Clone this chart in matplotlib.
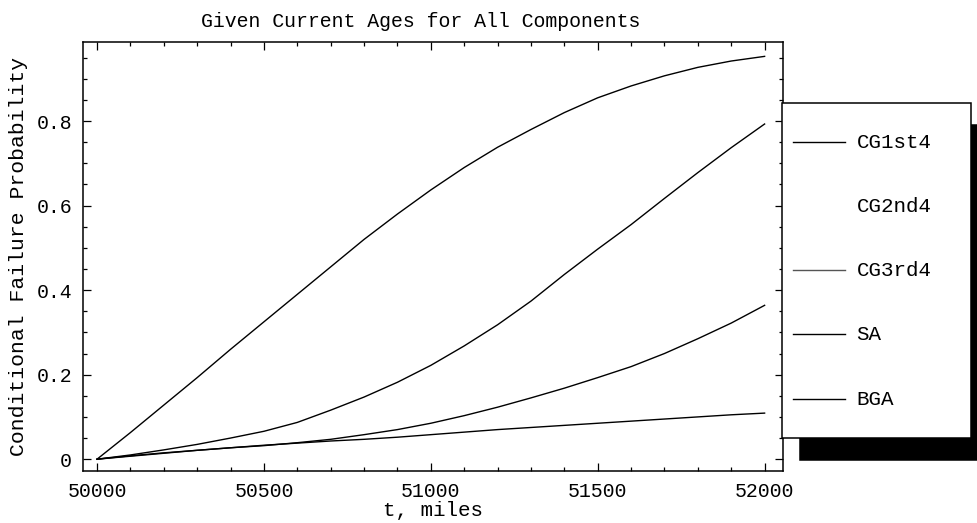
import matplotlib
matplotlib.use("Agg")
import matplotlib.pyplot as plt
from matplotlib.lines import Line2D
from matplotlib.legend_handler import HandlerLine2D
from matplotlib.ticker import MultipleLocator

# miles, sampled every 100
t_miles = [50000, 50100, 50200, 50300, 50400, 50500, 50600, 50700, 50800, 50900,
           51000, 51100, 51200, 51300, 51400, 51500, 51600, 51700, 51800, 51900, 52000]

cg1st4 = [0, 0.063, 0.128, 0.193, 0.26, 0.325, 0.39, 0.455, 0.52, 0.58,
          0.637, 0.69, 0.738, 0.78, 0.82, 0.855, 0.883, 0.907, 0.927, 0.942, 0.953]
cg3rd4 = [0, 0.01, 0.022, 0.035, 0.05, 0.066, 0.087, 0.116, 0.147, 0.182,
          0.222, 0.268, 0.318, 0.374, 0.437, 0.497, 0.555, 0.617, 0.678, 0.737, 0.793]
sa = [0, 0.007, 0.014, 0.021, 0.027, 0.032, 0.039, 0.047, 0.058, 0.07,
      0.085, 0.103, 0.123, 0.145, 0.168, 0.193, 0.219, 0.25, 0.285, 0.322, 0.364]
bga = [0, 0.008, 0.015, 0.021, 0.027, 0.033, 0.038, 0.043, 0.047, 0.052,
       0.058, 0.064, 0.07, 0.075, 0.08, 0.085, 0.09, 0.095, 0.1, 0.105, 0.109]

legend_names = ["CG1st4", "CG2nd4", "CG3rd4", "SA", "BGA"]
legend_colors = ["black", "white", "#555555", "black", "black"]

xticks = [50000, 50500, 51000, 51500, 52000]
yticks = [0, 0.2, 0.4, 0.6, 0.8]
ytick_labels = ["0", "0.2", "0.4", "0.6", "0.8"]


class LowLine(HandlerLine2D):
    # tall legend rows put the sample line above the text, push it back down
    def create_artists(self, legend, orig_handle, xdescent, ydescent,
                       width, height, fontsize, trans):
        return super().create_artists(legend, orig_handle, xdescent,
                                      ydescent + 1.05 * fontsize, width, height,
                                      fontsize, trans)


plt.rcParams['font.family'] = ['Liberation Mono', 'DejaVu Sans Mono']
fsz = 14.3

fig = plt.figure(figsize=(9.77, 5.23), dpi=100)
ax = fig.add_axes([0.085, 0.0994, 0.7164, 0.8203])

for ys in [cg1st4, cg3rd4, sa, bga]:
    ax.plot(t_miles, ys, color="black", lw=1.0)

ax.set_xlim(49958, 52055)
ax.set_ylim(-0.028, 0.987)
ax.set_xticks(xticks)
ax.set_yticks(yticks)
ax.set_yticklabels(ytick_labels)
ax.xaxis.set_minor_locator(MultipleLocator(100))
ax.yaxis.set_minor_locator(MultipleLocator(0.05))
ax.tick_params(which="both", direction="in", top=True, right=True, labelsize=fsz, width=0.9)
ax.tick_params(which="major", length=6, pad=8)
ax.tick_params(which="minor", length=3)
for s in ax.spines.values():
    s.set_linewidth(1.1)

ax.set_xlabel("t, miles", fontsize=15, labelpad=0)
ax.set_ylabel("Conditional Failure Probability", fontsize=15.4, labelpad=6)
ax.set_title("Given Current Ages for All Components", fontsize=fsz, pad=11, x=0.483)

handles = [Line2D([], [], color=c, lw=1.0) for c in legend_colors]
leg = ax.legend(handles, legend_names, loc="upper left",
                bbox_to_anchor=(782 / 977, 1 - 103 / 523 - 0.01, 189 / 977, 0.01),
                bbox_transform=fig.transFigure, mode="expand",
                fontsize=15, frameon=True, fancybox=False, framealpha=1,
                edgecolor="black", handlelength=2.5, handletextpad=0.55,
                handleheight=3.75, labelspacing=0.4, borderpad=0.53,
                borderaxespad=0,
                handler_map={Line2D: LowLine()},
                shadow={"ox": 13, "oy": -16, "shade": 1.0, "alpha": 1})
leg.get_frame().set_linewidth(1.1)

fig.savefig("out.png", dpi=100)
